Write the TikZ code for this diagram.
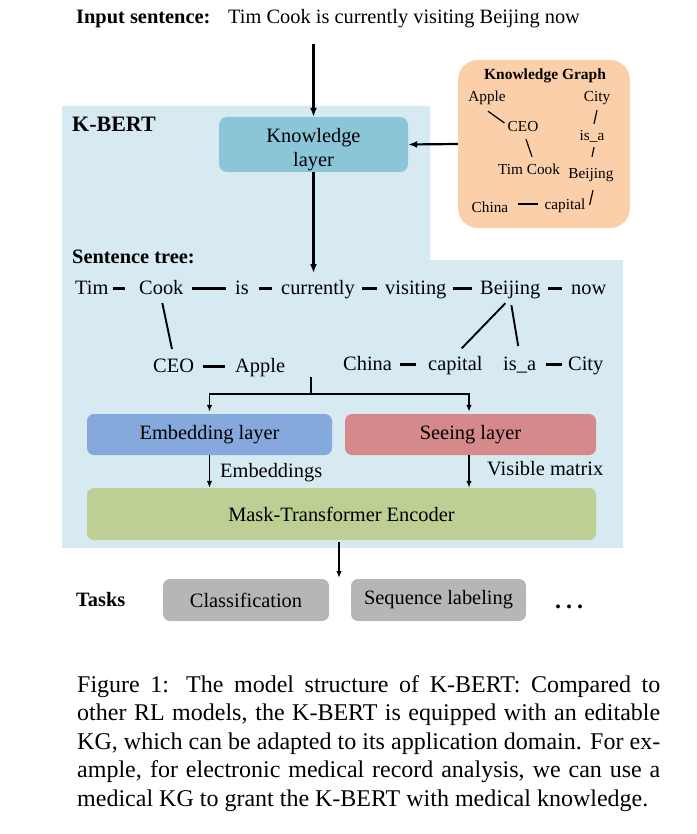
\documentclass[tikz,border=0pt]{standalone}
\usepackage{fontspec}
\IfFontExistsTF{LiberationSerif-Regular.ttf}{%
  \setmainfont{LiberationSerif-Regular.ttf}[BoldFont=LiberationSerif-Bold.ttf,ItalicFont=LiberationSerif-Italic.ttf]}{%
  \setmainfont{Liberation Serif}}
\usetikzlibrary{arrows.meta,calc}
\definecolor{kbertbg}{HTML}{D7EAF2}
\definecolor{kgorange}{HTML}{FBCFA9}
\definecolor{klblue}{HTML}{8AC6D8}
\definecolor{embblue}{HTML}{85A9DD}
\definecolor{seered}{HTML}{D5898A}
\definecolor{maskgreen}{HTML}{BDCF93}
\definecolor{taskgray}{HTML}{B6B6B6}
\tikzset{
  mainfont/.style={font=\fontsize{20.4}{24}\selectfont},
  kgfont/.style={font=\fontsize{15.3}{18}\selectfont},
  lbl/.style={inner sep=0pt, anchor=base west},
  word/.style={inner sep=0pt, text height=15pt, text depth=4pt, anchor=west},
  kgword/.style={inner sep=0pt, text height=10.5pt, text depth=3.5pt, kgfont},
  bigarrow/.style={line width=2.2pt, -{Latex[length=9pt,width=7pt]}},
  smallarrow/.style={line width=1.6pt, -{Latex[length=7pt,width=5.5pt]}},
  dashline/.style={line width=2.2pt},
  treeline/.style={line width=1.9pt},
  kgline/.style={line width=1.2pt},
  layerbox/.style={inner sep=0pt, rounded corners=7pt, draw=none},
}
\begin{document}
\begin{tikzpicture}[x=1pt,y=-1pt,mainfont]
\useasboundingbox (0,0) rectangle (696,834);

% K-BERT background region
\fill[kbertbg] (62,106) -- (430,106) -- (430,260) -- (623,260) -- (623,548) -- (62,548) -- cycle;

% input sentence
\node[lbl, font=\fontsize{20.4}{24}\selectfont\bfseries] (inlbl) at (76,24) {Input sentence:};
\node[lbl] (insent) at (228,24) {Tim Cook is currently visiting Beijing now};
\coordinate (instart) at (313.5,44);

% knowledge graph box
\node[fill=kgorange, rounded corners=20pt, minimum width=172pt, minimum height=168pt, inner sep=0pt] (kg) at (544,144) {};
\node[inner sep=0pt, font=\fontsize{15.5}{18}\selectfont\bfseries] (kgtitle) at (545,76) {Knowledge Graph};
\node[kgword] (kapple) at (487,98) {Apple};
\node[kgword] (kcity) at (597,98) {City};
\node[kgword] (kceo) at (523,128) {CEO};
\node[kgword] (kisa) at (592,137) {is\_a};
\node[kgword] (ktim) at (529,171) {Tim Cook};
\node[kgword] (kbeijing) at (591,175) {Beijing};
\node[kgword] (kchina) at (490,209) {China};
\node[kgword] (kcapital) at (565,206) {capital};
\draw[kgline] ($(kapple.south)+(1,6)$) -- ($(kceo.west)+(-3,-5)$);
\draw[kgline] ($(kceo.south)+(3,4)$) -- ($(ktim.north)+(3,-7)$);
\draw[kgline] ($(kcity.south)+(0,5)$) -- ($(kisa.north)+(2,-6)$);
\draw[kgline] ($(kisa.south)+(2,3)$) -- ($(kbeijing.north)+(1,-11)$);
\draw[kgline] ($(kcapital.east)+(4,-1)$) -- ($(kbeijing.south)+(2,8)$);
\draw[kgline] ($(kchina.east)+(9.5,-5)$) -- ($(kcapital.west)+(-6,-2)$);

% K-BERT label and knowledge layer
\node[lbl, font=\fontsize{22}{26}\selectfont\bfseries] (kbertlbl) at (72,132) {K-BERT};
\node[layerbox, fill=klblue, rounded corners=8pt, minimum width=189pt, minimum height=55pt] (kl) at (313.5,144.5) {};
\node[inner sep=0pt, align=center, anchor=north] (kltxt) at (313.5,128) {Knowledge\\layer};
\draw[bigarrow] (instart) -- (kl.north);
\draw[bigarrow] (kg.west) -- (kl.east);

% sentence tree
\node[lbl, font=\fontsize{20.4}{24}\selectfont\bfseries] (stlbl) at (72,263) {Sentence tree:};
\node[word] (tim) at (75,288.5) {Tim};
\node[word] (cook) at (139,288.5) {Cook};
\node[word] (is) at (235,288.5) {is};
\node[word] (currently) at (281,288.5) {currently};
\node[word] (visiting) at (385,288.5) {visiting};
\node[word] (beijing) at (480,288.5) {Beijing};
\node[word] (now) at (571,288.5) {now};
\coordinate (treein) at (313.5,273);
\draw[bigarrow] (kl.south) -- (treein);

\draw[dashline, shorten <=4pt, shorten >=14pt] (tim.east) -- (cook.west);
\draw[dashline, shorten <=8pt, shorten >=9pt] (cook.east) -- (is.west);
\draw[dashline, shorten <=9.5pt, shorten >=9pt] (is.east) -- (currently.west);
\draw[dashline, shorten <=6.5pt, shorten >=8pt] (currently.east) -- (visiting.west);
\draw[dashline, shorten <=6pt, shorten >=8pt] (visiting.east) -- (beijing.west);
\draw[dashline, shorten <=8pt, shorten >=9pt] (beijing.east) -- (now.west);

\node[word] (ceo) at (153,366.5) {CEO};
\node[word] (apple) at (235,366.5) {Apple};
\node[word] (china) at (343,364.5) {China};
\node[word] (capital) at (428,364.5) {capital};
\node[word] (isa) at (503,364.5) {is\_a};
\node[word] (city) at (568,364.5) {City};
\draw[dashline, shorten <=9pt, shorten >=10pt] (ceo.east) -- (apple.west);
\draw[dashline, shorten <=8pt, shorten >=12pt] (china.east) -- (capital.west);
\draw[dashline, shorten <=10pt, shorten >=6pt] (isa.east) -- (city.west);

\draw[treeline, shorten <=5pt, shorten >=8pt] (cook.south) -- (ceo.north);
\draw[treeline, shorten <=7pt, shorten >=9pt] (beijing.south) -- (capital.north);
\draw[treeline, shorten <=7pt, shorten >=9pt] (beijing.south) -- (isa.north);

% layers
\node[layerbox, fill=embblue, minimum width=245pt, minimum height=41pt] (emb) at (209.5,434.5) {Embedding layer};
\node[layerbox, fill=seered, minimum width=251pt, minimum height=41pt] (see) at (470.5,434.5) {Seeing layer};
\node[layerbox, fill=maskgreen, minimum width=509pt, minimum height=52pt] (mask) at (341.5,514) {Mask-Transformer Encoder};

\coordinate (split) at (311,377);
\draw[smallarrow] (split) -- ++(0,17) -| ($(emb.north)+(0,-2)$);
\draw[smallarrow] (split) -- ++(0,17) -| ($(see.north)+(-1.5,-2)$);

\draw[smallarrow] (emb.south) -- (emb.south |- mask.north);
\draw[smallarrow] ($(see.south)+(-1.5,0)$) -- ($(see.south |- mask.north)+(-1.5,0)$);
\node[lbl] (embtxt) at (220,477) {Embeddings};
\node[lbl] (vistxt) at (487,475) {Visible matrix};

% tasks
\node[lbl, font=\fontsize{20.4}{24}\selectfont\bfseries] (taskslbl) at (76,606) {Tasks};
\node[layerbox, fill=taskgray, minimum width=166pt, minimum height=42pt] (cls) at (246,600) {Classification};
\node[layerbox, fill=taskgray, minimum width=175pt, minimum height=42pt] (seq) at (438.5,600) {Sequence labeling};
\node[lbl, font=\fontsize{24}{24}\selectfont\bfseries] (dots) at (555,608) {.\kern5pt.\kern5pt.};
\coordinate (taskin) at (339,578);
\draw[smallarrow, shorten <=2pt] (mask.south -| taskin) -- (taskin);

% caption
\begin{scope}[font=\fontsize{24}{28.5}\selectfont]
\node[lbl] (cap1) at (77,692) {\makebox[583pt][s]{Figure 1: The model structure of K-BERT: Compared to}};
\node[lbl] (cap2) at (77,720.5) {\makebox[583pt][s]{other RL models, the K-BERT is equipped with an editable}};
\node[lbl] (cap3) at (77,749) {\makebox[583pt][s]{KG, which can be adapted to its application domain. For ex-}};
\node[lbl] (cap4) at (77,777.5) {\makebox[583pt][s]{ample, for electronic medical record analysis, we can use a}};
\node[lbl] (cap5) at (77,806) {medical KG to grant the K-BERT with medical knowledge.};
\end{scope}
\end{tikzpicture}
\end{document}
